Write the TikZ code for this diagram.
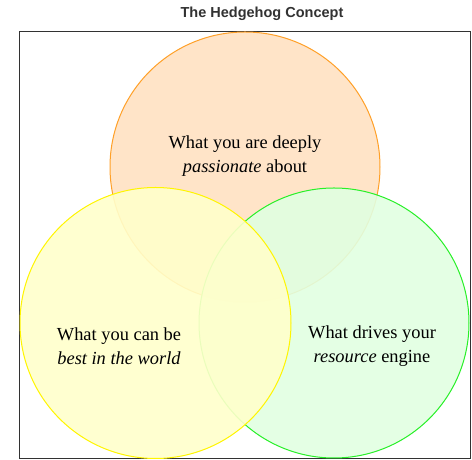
\documentclass[tikz,border=0pt]{standalone}
\usepackage{fontspec}
\setmainfont{Liberation Serif}
\setsansfont{Liberation Sans}
\definecolor{orfill}{RGB}{255,225,194}
\definecolor{orline}{RGB}{255,160,40}
\definecolor{yefill}{RGB}{255,255,203}
\definecolor{yeline}{RGB}{255,245,0}
\definecolor{grfill}{RGB}{225,255,225}
\definecolor{grline}{RGB}{40,240,40}
\definecolor{framegray}{RGB}{50,50,50}
\begin{document}
\begin{tikzpicture}[x=1pt,y=1pt,
  vcircle/.style={line width=1pt, fill opacity=0.9},
  label/.style={align=center, text=black, font=\fontsize{18.4}{24}\selectfont}]
\useasboundingbox (0,0) rectangle (472,460);
\node (title) at (262,446) {\sffamily\bfseries\fontsize{14.5}{16}\selectfont\color{framegray}The Hedgehog Concept};
\draw[framegray, line width=0.9pt] (19,428.5) rectangle (470,2);
\draw[vcircle, draw=orline, fill=orfill] (245,293) circle (135);
\draw[vcircle, draw=grline, fill=grfill] (334,137) circle (135);
\draw[vcircle, draw=yeline, fill=yefill] (155.5,137) circle (135.5);
\node[label] (passion) at (245,304) {What you are deeply\\\textit{passionate} about};
\node[label] (best) at (119,113.5) {What you can be\\\textit{best in the world}};
\node[label] (engine) at (372,113.5) {What drives your\\\textit{resource} engine};
\end{tikzpicture}
\end{document}
